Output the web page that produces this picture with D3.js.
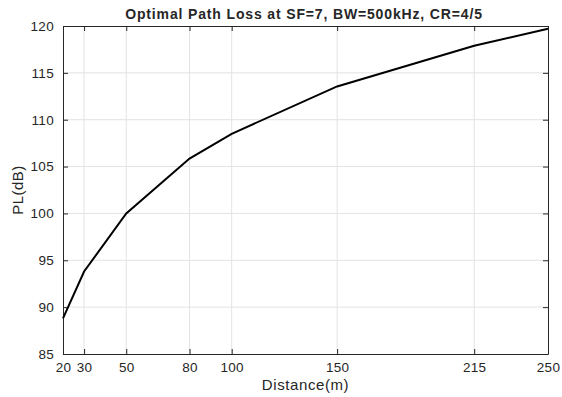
<!DOCTYPE html>
<html>
<head>
<meta charset="utf-8">
<script src="https://cdn.jsdelivr.net/npm/d3@7"></script>
<style>
body { margin: 0; background: #fff; }
text { font-family: "Liberation Sans", Arial, sans-serif; fill: #262626; }
</style>
</head>
<body>
<div class="chart"></div>
<script>
var distance = [20, 30, 50, 80, 100, 150, 215, 250];
var pathLoss = [88.8, 93.8, 100.0, 105.85, 108.5, 113.55, 117.9, 119.7];
var xTicks = [20, 30, 50, 80, 100, 150, 215, 250];
var yTicks = [85, 90, 95, 100, 105, 110, 115, 120];

var svgWidth = 562;
var svgHeight = 397;
var margin = { top: 26, right: 14, bottom: 43, left: 63 };
var width = svgWidth - margin.left - margin.right;
var height = svgHeight - margin.top - margin.bottom;

var svg = d3.select(".chart")
    .append("svg")
    .attr("width", svgWidth)
    .attr("height", svgHeight);

var chart = svg.append("g")
    .attr("transform", "translate(" + margin.left + "," + margin.top + ")");

var x = d3.scaleLinear().domain([20, 250]).range([0, width]);
var y = d3.scaleLinear().domain([85, 120]).range([height, 0]);

// grid
chart.append("g").selectAll("line")
    .data(xTicks.slice(1, -1))
    .enter().append("line")
    .attr("x1", function(d) { return x(d); })
    .attr("x2", function(d) { return x(d); })
    .attr("y1", 0).attr("y2", height)
    .attr("stroke", "#e3e3e3").attr("stroke-width", 1);
chart.append("g").selectAll("line")
    .data(yTicks.slice(1, -1))
    .enter().append("line")
    .attr("y1", function(d) { return y(d); })
    .attr("y2", function(d) { return y(d); })
    .attr("x1", 0).attr("x2", width)
    .attr("stroke", "#e3e3e3").attr("stroke-width", 1);

// axes, ticks inward
var bottomAxis = d3.axisBottom(x).tickValues(xTicks).tickSizeInner(-5).tickSizeOuter(0).tickPadding(8);
var leftAxis = d3.axisLeft(y).tickValues(yTicks).tickSizeInner(-5).tickSizeOuter(0).tickPadding(9);
var topAxis = d3.axisTop(x).tickValues(xTicks).tickSizeInner(-5).tickSizeOuter(0).tickFormat("");
var rightAxis = d3.axisRight(y).tickValues(yTicks).tickSizeInner(-5).tickSizeOuter(0).tickFormat("");

function styleAxis(g) {
    g.select(".domain").attr("stroke", "#262626").attr("stroke-width", 1);
    g.selectAll(".tick line").attr("stroke", "#262626");
    g.selectAll(".tick text").style("font-size", "13.5px").style("letter-spacing", "0.3px").attr("fill", "#262626");
}

chart.append("g").attr("transform", "translate(0," + height + ")").call(bottomAxis).call(styleAxis);
chart.append("g").call(leftAxis).call(styleAxis);
chart.append("g").call(topAxis).call(styleAxis);
chart.append("g").attr("transform", "translate(" + width + ",0)").call(rightAxis).call(styleAxis);

// line
var line = d3.line()
    .x(function(d, i) { return x(distance[i]); })
    .y(function(d) { return y(d); });

chart.append("path")
    .datum(pathLoss)
    .attr("d", line)
    .attr("fill", "none")
    .attr("stroke", "#000")
    .attr("stroke-width", 2);

// labels
svg.append("text")
    .attr("x", 304)
    .attr("y", 19)
    .attr("text-anchor", "middle")
    .style("font-size", "14px")
    .style("font-weight", "bold")
    .style("letter-spacing", "0.85px")
    .attr("fill", "#000")
    .text("Optimal Path Loss at SF=7, BW=500kHz, CR=4/5");

svg.append("text")
    .attr("x", margin.left + width / 2)
    .attr("y", 390)
    .attr("text-anchor", "middle")
    .style("font-size", "15px")
    .style("letter-spacing", "0.6px")
    .text("Distance(m)");

svg.append("text")
    .attr("transform", "rotate(-90)")
    .attr("x", -(margin.top + height / 2))
    .attr("y", 23)
    .attr("text-anchor", "middle")
    .style("font-size", "15px")
    .style("letter-spacing", "0.5px")
    .text("PL(dB)");
</script>
</body>
</html>
